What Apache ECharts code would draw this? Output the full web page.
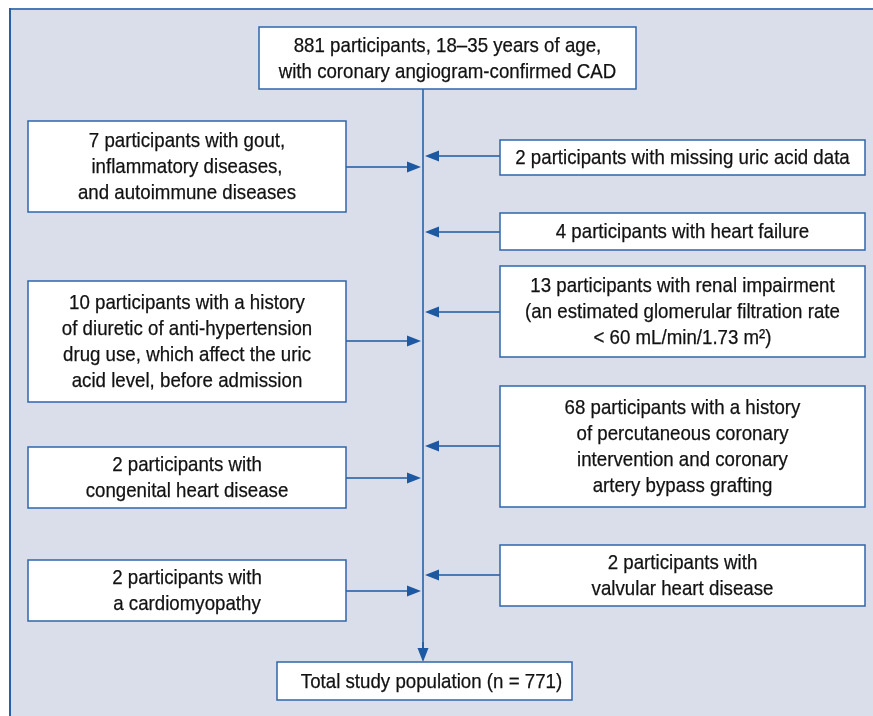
<!DOCTYPE html>
<html>
<head>
<meta charset="utf-8">
<script src="https://cdn.jsdelivr.net/npm/echarts@6/dist/echarts.min.js"></script>
<style>
  html, body { margin: 0; padding: 0; background: #ffffff; }
  #chart { width: 873px; height: 716px; }
</style>
</head>
<body>
<div id="chart"></div>
<script>
// --- flowchart content ---
const nodeText = [
  "881 participants, 18\u201335 years of age,\nwith coronary angiogram-confirmed CAD",
  "7 participants with gout,\ninflammatory diseases,\nand autoimmune diseases",
  "2 participants with missing uric acid data",
  "4 participants with heart failure",
  "13 participants with renal impairment\n(an estimated glomerular filtration rate\n< 60 mL/min/1.73 m\u00b2)",
  "10 participants with a history\nof diuretic of anti-hypertension\ndrug use, which affect the uric\nacid level, before admission",
  "68 participants with a history\nof percutaneous coronary\nintervention and coronary\nartery bypass grafting",
  "2 participants with\ncongenital heart disease",
  "2 participants with\nvalvular heart disease",
  "2 participants with\na cardiomyopathy",
  "Total study population (n = 771)"
];
// box extents in layout units [x0, y0, x1, y1]
const nodeRect = [
  [259, 27, 636, 89],
  [28, 121, 346, 212],
  [500, 140, 865, 175],
  [500, 213, 865, 250],
  [500, 266, 865, 357],
  [28, 281, 346, 402],
  [500, 386, 865, 507],
  [28, 447, 346, 508],
  [500, 545, 865, 606],
  [28, 560, 346, 621],
  [277, 662, 572, 700]
];
const trunkX = 423;
// exclusion arrows run from a box edge (arrowFrom) to the trunk at height arrowY
const arrowY = [156, 167, 232, 312, 341, 446, 478, 575, 591];
const arrowFrom = [500, 346, 500, 500, 346, 500, 346, 500, 346];
const trunkSpan = [89, 662];
const panelRect = [9, 8, 873, 716];

const FONT = '"Liberation Sans", Arial, sans-serif';
const NARROW = 0.89; // squeeze Arial-metric text to a narrow face
const LINE = '#1d58a2';
const BORDER = '#2f66aa';

const chart = echarts.init(document.getElementById('chart'), null, { renderer: 'canvas' });

function renderPanel(params, api) {
  const p0 = api.coord([api.value(0), api.value(1)]);
  const p1 = api.coord([api.value(2), api.value(3)]);
  return {
    type: 'group',
    children: [
      { type: 'rect', shape: { x: p0[0], y: p0[1], width: p1[0] - p0[0], height: p1[1] - p0[1] },
        style: { fill: '#dadeeb' } },
      { type: 'line', shape: { x1: p0[0], y1: p0[1] + 1, x2: p1[0], y2: p0[1] + 1 },
        style: { stroke: '#4a7bb6', lineWidth: 2 } },
      { type: 'line', shape: { x1: p0[0] + 1, y1: p0[1], x2: p0[0] + 1, y2: p1[1] },
        style: { stroke: '#2a5fa6', lineWidth: 2 } }
    ]
  };
}

function renderBox(params, api) {
  const p0 = api.coord([api.value(0), api.value(1)]);
  const p1 = api.coord([api.value(2), api.value(3)]);
  const text = nodeText[params.dataIndex];
  const last = params.dataIndex === nodeText.length - 1;
  return {
    type: 'group',
    children: [
      { type: 'rect', shape: { x: p0[0], y: p0[1], width: p1[0] - p0[0], height: p1[1] - p0[1] },
        style: { fill: '#ffffff', stroke: BORDER, lineWidth: 1.5 } },
      { type: 'text',
        x: (p0[0] + p1[0]) / 2 + (last ? 7 : 0), y: (p0[1] + p1[1]) / 2 + 1,
        scaleX: NARROW,
        style: { text: text, x: 0, y: 0,
          align: 'center', verticalAlign: 'middle', fill: '#111111',
          stroke: '#111111', lineWidth: 0.25,
          fontFamily: FONT, fontSize: 21, lineHeight: 26 } }
    ]
  };
}

function renderArrow(params, api) {
  const a = api.coord([api.value(0), api.value(1)]);
  const b = api.coord([api.value(2), api.value(3)]);
  const dx = b[0] - a[0], dy = b[1] - a[1];
  const len = Math.sqrt(dx * dx + dy * dy) || 1;
  const ux = dx / len, uy = dy / len;
  const hl = 14, hw = 5.5;
  const bx = b[0] - ux * hl, by = b[1] - uy * hl;
  return {
    type: 'group',
    children: [
      { type: 'line', shape: { x1: a[0], y1: a[1], x2: bx + ux, y2: by + uy },
        style: { stroke: LINE, lineWidth: 1.5 } },
      { type: 'polygon', shape: { points: [
          [b[0], b[1]], [bx - uy * hw, by + ux * hw], [bx + uy * hw, by - ux * hw]] },
        style: { fill: LINE } }
    ]
  };
}

function renderTrunk(params, api) {
  const a = api.coord([api.value(0), api.value(1)]);
  const b = api.coord([api.value(2), api.value(3)]);
  return {
    type: 'line', shape: { x1: a[0], y1: a[1], x2: b[0], y2: b[1] },
    style: { stroke: LINE, lineWidth: 1.5 }
  };
}

const arrowData = arrowY.map((y, i) => {
  const toX = arrowFrom[i] > trunkX ? trunkX + 2 : trunkX - 2;
  return [arrowFrom[i], y, toX, y];
});

chart.setOption({
  animation: false,
  backgroundColor: '#ffffff',
  grid: { left: 0, right: 0, top: 0, bottom: 0 },
  xAxis: { type: 'value', min: 0, max: 873, show: false },
  yAxis: { type: 'value', min: 0, max: 716, inverse: true, show: false },
  series: [
    { type: 'custom', clip: false, silent: true, renderItem: renderPanel, data: [panelRect] },
    { type: 'custom', clip: false, silent: true, renderItem: renderTrunk,
      data: [[trunkX, trunkSpan[0], trunkX, trunkSpan[1] - 13]] },
    { type: 'custom', clip: false, silent: true, renderItem: renderArrow,
      data: [[trunkX, trunkSpan[1] - 20, trunkX, trunkSpan[1]]] },
    { type: 'custom', clip: false, silent: true, renderItem: renderArrow, data: arrowData },
    { type: 'custom', clip: false, silent: true, renderItem: renderBox, data: nodeRect }
  ]
});
</script>
</body>
</html>
